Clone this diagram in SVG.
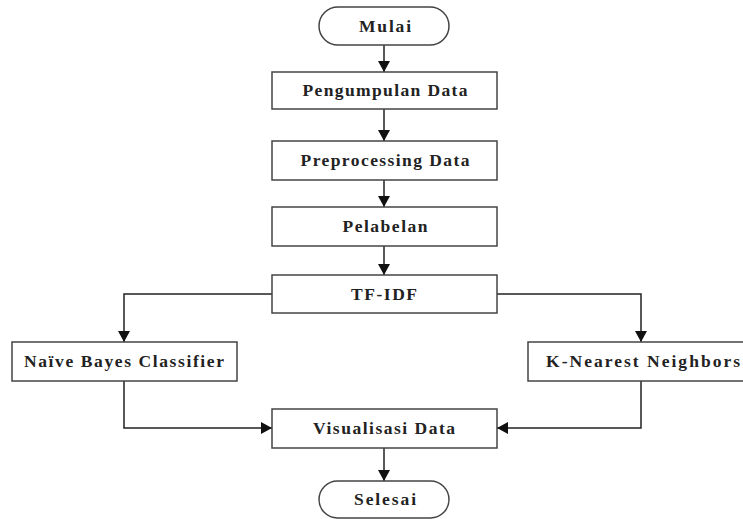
<svg xmlns="http://www.w3.org/2000/svg" width="743" height="519" viewBox="0 0 743 519">
<style>
.box{fill:#fff;stroke:#444;stroke-width:1.5}
.t{font-family:"Liberation Serif","Times New Roman",serif;font-size:17.5px;font-weight:bold;fill:#222;text-anchor:middle}
.c{fill:none;stroke:#222;stroke-width:1.5}
</style>
<defs>
<marker id="ah" markerWidth="12" markerHeight="12" refX="11" refY="6" orient="auto" markerUnits="userSpaceOnUse">
<path d="M0,0 L11,6 L0,12 Z" fill="#111"/>
</marker>
</defs>
<rect width="743" height="519" fill="#fff"/>
<g id="connectors">
<line class="c" x1="384" y1="45" x2="384" y2="72" marker-end="url(#ah)"/>
<line class="c" x1="384" y1="109" x2="384" y2="141" marker-end="url(#ah)"/>
<line class="c" x1="384" y1="180" x2="384" y2="207" marker-end="url(#ah)"/>
<line class="c" x1="384" y1="246" x2="384" y2="275" marker-end="url(#ah)"/>
<polyline class="c" points="272,294 124,294 124,342" marker-end="url(#ah)"/>
<polyline class="c" points="497,294 641,294 641,342" marker-end="url(#ah)"/>
<polyline class="c" points="124,381 124,428 272,428" marker-end="url(#ah)"/>
<polyline class="c" points="641,381 641,428 497,428" marker-end="url(#ah)"/>
<line class="c" x1="384" y1="448" x2="384" y2="481" marker-end="url(#ah)"/>
</g>
<g id="mulai">
<rect class="box" x="319" y="7" width="130" height="38" rx="19"/>
<text class="t" x="385" y="32" textLength="52" lengthAdjust="spacing">Mulai</text>
</g>
<g id="pengumpulan">
<rect class="box" x="272" y="72" width="225" height="37"/>
<text class="t" x="385" y="96" textLength="165" lengthAdjust="spacing">Pengumpulan Data</text>
</g>
<g id="preprocessing">
<rect class="box" x="272" y="141" width="225" height="39"/>
<text class="t" x="385" y="166" textLength="169" lengthAdjust="spacing">Preprocessing Data</text>
</g>
<g id="pelabelan">
<rect class="box" x="272" y="207" width="225" height="39"/>
<text class="t" x="385" y="232" textLength="85" lengthAdjust="spacing">Pelabelan</text>
</g>
<g id="tfidf">
<rect class="box" x="272" y="275" width="225" height="38"/>
<text class="t" x="384" y="300" textLength="66" lengthAdjust="spacing">TF-IDF</text>
</g>
<g id="naive">
<rect class="box" x="12" y="342" width="225" height="39"/>
<text class="t" x="124" y="367" textLength="200" lengthAdjust="spacing">Naïve Bayes Classifier</text>
</g>
<g id="knn">
<rect class="box" x="528" y="342" width="227" height="39"/>
<text class="t" x="643" y="367" textLength="194" lengthAdjust="spacing">K-Nearest Neighbors</text>
</g>
<g id="visualisasi">
<rect class="box" x="272" y="409" width="225" height="39"/>
<text class="t" x="384" y="434" textLength="142" lengthAdjust="spacing">Visualisasi Data</text>
</g>
<g id="selesai">
<rect class="box" x="319" y="481" width="130" height="37" rx="18.5"/>
<text class="t" x="385" y="505" textLength="62" lengthAdjust="spacing">Selesai</text>
</g>
</svg>
